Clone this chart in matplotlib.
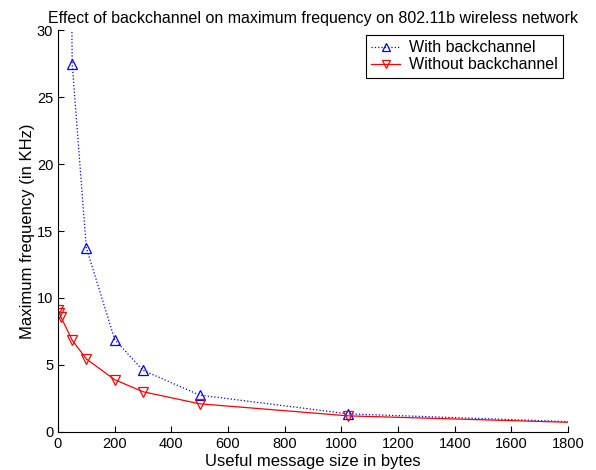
import matplotlib
matplotlib.use("Agg")
import matplotlib.pyplot as plt

plt.rcParams['font.family'] = ['Liberation Sans', 'DejaVu Sans']

# with backchannel (first point lies far above the visible range)
with_line_x = [10, 50, 100, 200, 300, 500, 1024, 1800]
with_line_y = [137.5, 27.5, 13.75, 6.9, 4.6, 2.75, 1.35, 0.77]
with_mark_x = [50, 100, 200, 300, 500, 1024]
with_mark_y = [27.5, 13.75, 6.9, 4.6, 2.75, 1.35]

# without backchannel
without_line_x = [1, 5, 10, 50, 100, 200, 300, 500, 1024, 1800]
without_line_y = [9.1, 8.9, 8.6, 6.85, 5.45, 3.9, 3.0, 2.1, 1.2, 0.72]
without_mark_x = [1, 5, 10, 50, 100, 200, 300, 500, 1024]
without_mark_y = [9.1, 8.9, 8.6, 6.85, 5.45, 3.9, 3.0, 2.1, 1.2]

fig = plt.figure(figsize=(5.96, 4.70), dpi=100)
ax = fig.add_axes([0.0973, 0.081, 0.856, 0.855])

ax.plot(with_line_x, with_line_y, color='#0000ff', linestyle=':', lw=0.9)
ax.plot(without_line_x, without_line_y, color='#ff0000', linestyle='-', lw=0.9)
ax.plot(with_mark_x, with_mark_y, linestyle='none', marker='^', mfc='none',
        mec='#0000ff', ms=6.5, mew=0.9)
ax.plot(without_mark_x, without_mark_y, linestyle='none', marker='v', mfc='none',
        mec='#ff0000', ms=6.5, mew=0.9)

# legend handles
h1, = ax.plot([], [], color='#0000ff', linestyle=':', lw=0.9, marker='^', mfc='none',
              mec='#0000ff', ms=6, mew=0.9)
h2, = ax.plot([], [], color='#ff0000', linestyle='-', lw=0.9, marker='v', mfc='none',
              mec='#ff0000', ms=6, mew=0.9)
leg = ax.legend([h1, h2], ['With backchannel', 'Without backchannel'],
                loc='upper right', bbox_to_anchor=(0.990, 0.988), fontsize=11.5,
                fancybox=False, framealpha=1, edgecolor='black', handlelength=1.8,
                borderpad=0.35, labelspacing=0.12, handletextpad=0.55,
                borderaxespad=0)
leg.get_frame().set_linewidth(0.8)

ax.set_xlim(0, 1800)
ax.set_ylim(0, 30)
ax.set_xticks(range(0, 1801, 200))
ax.set_yticks([0, 5, 10, 15, 20, 25, 30])
ax.spines['top'].set_visible(False)
ax.spines['right'].set_visible(False)
ax.tick_params(direction='in', length=4, labelsize=10.5)
ax.set_xlabel('Useful message size in bytes', fontsize=12, labelpad=2)
ax.set_ylabel('Maximum frequency (in KHz)', fontsize=12, labelpad=1)
ax.set_title('Effect of backchannel on maximum frequency on 802.11b wireless network',
             fontsize=11.5, pad=5)

fig.savefig('out.png', dpi=100)
